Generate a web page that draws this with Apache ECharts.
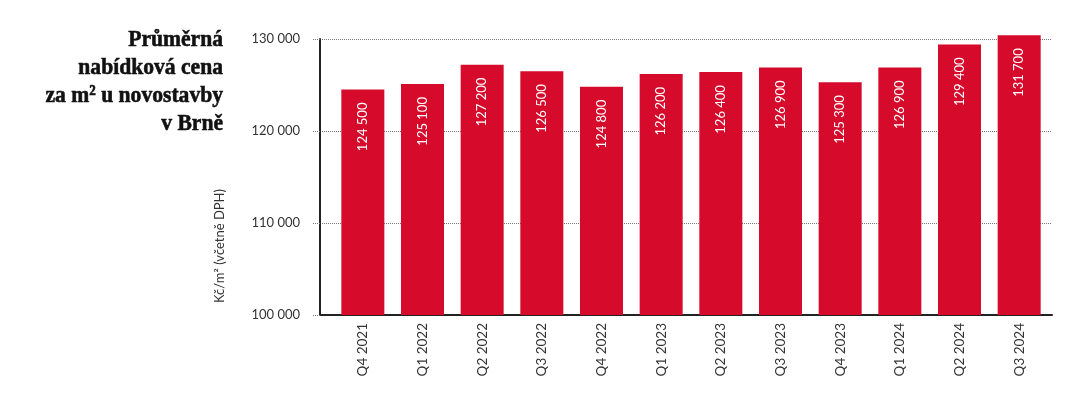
<!DOCTYPE html>
<html>
<head>
<meta charset="utf-8">
<script src="https://cdn.jsdelivr.net/npm/echarts@6/dist/echarts.min.js"></script>
<style>
html,body{margin:0;padding:0;background:#fff;}
#chart{width:1068px;height:408px;}
</style>
</head>
<body>
<div id="chart"></div>
<script>
const categories = ['Q4 2021','Q1 2022','Q2 2022','Q3 2022','Q4 2022','Q1 2023','Q2 2023','Q3 2023','Q4 2023','Q1 2024','Q2 2024','Q3 2024'];
const prices = [124500, 125100, 127200, 126500, 124800, 126200, 126400, 126900, 125300, 126900, 129400, 131700];
const yTicks = [100000, 110000, 120000, 130000];
const titleText = 'Průměrná\nnabídková cena\nza m² u novostavby\nv Brně';
const yAxisName = 'Kč/m² (včetně DPH)';

const fmt = v => String(v).replace(/\B(?=(\d{3})+(?!\d))/g, ' ');
const FONT = 'Lato, "Open Sans", sans-serif';
const RED = '#d60a2b';

const chart = echarts.init(document.getElementById('chart'), null, {renderer: 'canvas'});
chart.setOption({
  animation: false,
  backgroundColor: '#ffffff',
  graphic: [{
    type: 'text',
    x: 223, y: 26,
    scaleX: 0.9,
    style: {
      text: titleText,
      fontFamily: '"Liberation Serif", "DejaVu Serif", serif',
      fontWeight: 'bold',
      fontSize: 24,
      lineHeight: 28,
      fill: '#111',
      stroke: '#111',
      lineWidth: 0.6,
      align: 'right',
      verticalAlign: 'top'
    }
  }, {
    type: 'text',
    x: 220, y: 246,
    rotation: Math.PI / 2,
    style: {
      text: yAxisName,
      fontFamily: FONT,
      fontSize: 13,
      fill: '#333',
      align: 'center',
      verticalAlign: 'middle'
    }
  }],
  grid: [
    {left: 333, right: 19, top: 35.3, bottom: 93},
    {left: 320, right: 16, top: 39, bottom: 93}
  ],
  xAxis: [
    {
      type: 'category', gridIndex: 0, data: categories,
      axisLine: {show: false}, axisTick: {show: false},
      axisLabel: {rotate: 90, margin: 8, fontFamily: FONT, fontSize: 13.5, color: '#333', interval: 0}
    },
    {
      type: 'value', gridIndex: 1, min: 0, max: 1,
      axisLine: {show: true, lineStyle: {color: '#222', width: 2}},
      axisTick: {show: false}, axisLabel: {show: false}, splitLine: {show: false}
    }
  ],
  yAxis: [
    {
      type: 'value', gridIndex: 0, min: yTicks[0], max: 130400,
      show: false, splitLine: {show: false}
    },
    {
      type: 'value', gridIndex: 1, min: yTicks[0], max: yTicks[yTicks.length - 1], interval: 10000,
      axisLine: {show: true, lineStyle: {color: '#222', width: 2}},
      axisTick: {show: true, length: 7, lineStyle: {color: '#777', type: 'dotted'}},
      axisLabel: {margin: 20, fontFamily: FONT, fontSize: 13, color: '#333', formatter: fmt},
      splitLine: {show: true, lineStyle: {color: '#777', type: 'dotted', width: 1}}
    }
  ],
  series: [{
    type: 'bar',
    xAxisIndex: 0, yAxisIndex: 0,
    data: prices,
    barWidth: 43,
    clip: true,
    itemStyle: {color: RED},
    label: {
      show: true,
      position: 'insideTop',
      distance: 13,
      rotate: 90,
      align: 'right',
      verticalAlign: 'middle',
      fontFamily: FONT,
      fontSize: 13,
      color: '#fff',
      formatter: p => fmt(p.value)
    }
  }]
});
</script>
</body>
</html>
